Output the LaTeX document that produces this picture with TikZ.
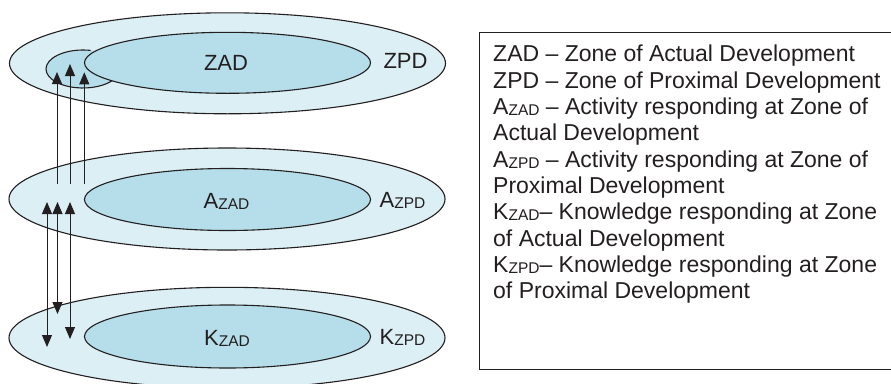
\documentclass[tikz,border=0pt]{standalone}
\usepackage{fontspec}
\setmainfont{Liberation Sans}
\usetikzlibrary{shapes.geometric,arrows.meta}
\definecolor{outerfill}{RGB}{219,239,245}
\definecolor{innerfill}{RGB}{181,222,234}
\definecolor{ink}{RGB}{35,31,32}
\newcommand\zsub[1]{\raisebox{-1pt}{\fontsize{15.5}{16}\selectfont #1}}
\begin{document}
\begin{tikzpicture}[x=1pt,y=-1pt,
  outerell/.style={ellipse, draw=ink, line width=1.1pt, fill=outerfill, minimum width=436pt, minimum height=101pt, inner sep=0pt},
  innerell/.style={ellipse, draw=ink, line width=1.1pt, fill=innerfill, minimum width=286pt, minimum height=62pt, inner sep=0pt},
  lbl/.style={font=\fontsize{22}{24}\selectfont, text=ink, inner sep=0pt, anchor=base},
  leg/.style={font=\fontsize{23}{26}\selectfont, text=ink, inner sep=0pt, anchor=base west},
  arr/.style={draw=ink, line width=1pt, -{Triangle[length=12pt,width=10pt]}},
  darr/.style={draw=ink, line width=1pt, {Triangle[length=12pt,width=10pt]}-{Triangle[length=12pt,width=10pt]}}
]
\useasboundingbox (0,0) rectangle (891,383);
\fill[white] (0,0) rectangle (891,383);
\clip (0,0) rectangle (891,383);

% top layer
\node[outerell] (zpd) at (227.5,63.3) {};
\fill[innerfill] (83,69) ellipse [x radius=37pt, y radius=19pt];
\draw[ink, line width=1.1pt] (83,69) ++(78:37pt and 19pt) arc[start angle=78, end angle=330, x radius=37pt, y radius=19pt];
\node[innerell, minimum height=61pt] (zad) at (227.5,62.8) {};
\node[lbl] (zadt) at (226,70) {ZAD};
\node[lbl] (zpdt) at (405.5,68) {ZPD};

% middle layer
\node[outerell, minimum height=102pt] (azpd) at (227,199) {};
\node[innerell] (azad) at (227.5,199.5) {};
\node[lbl] (azadt) at (226.5,208) {A\zsub{ZAD}};
\node[lbl] (azpdt) at (402.5,207) {A\zsub{ZPD}};

% bottom layer
\node[outerell] (kzpd) at (227,337.8) {};
\node[innerell, minimum height=63pt] (kzad) at (227.5,336.5) {};
\node[lbl] (kzadt) at (227,345) {K\zsub{ZAD}};
\node[lbl] (kzpdt) at (402.5,344) {K\zsub{ZPD}};

% arrows to top layer
\coordinate (t1s) at (57,184);   \coordinate (t1e) at (57,72);
\coordinate (t2s) at (70,184);   \coordinate (t2e) at (70,64);
\coordinate (t3s) at (84.3,184); \coordinate (t3e) at (84.3,72.3);
\draw[arr] (t1s) -- (t1e);
\draw[arr] (t2s) -- (t2e);
\draw[arr] (t3s) -- (t3e);

% arrows between middle and bottom layers
\coordinate (m1u) at (47,202);   \coordinate (m1d) at (47,347);
\coordinate (m2u) at (57.5,202); \coordinate (m2d) at (57.5,314);
\coordinate (m3u) at (70,202);   \coordinate (m3d) at (70,339);
\draw[darr] (m1d) -- (m1u);
\draw[darr] (m2d) -- (m2u);
\draw[darr] (m3d) -- (m3u);

% legend
\draw[ink, line width=1pt] (479,32.7) rectangle (920,369);
\node[leg] (l1) at (493,61.7) {ZAD – Zone of Actual Development};
\node[leg] (l2) at (493,88) {ZPD – Zone of Proximal Development};
\node[leg] (l3) at (493,114.3) {A\zsub{ZAD} – Activity responding at Zone of};
\node[leg] (l4) at (493,140.6) {Actual Development};
\node[leg] (l5) at (493,167) {A\zsub{ZPD} – Activity responding at Zone of};
\node[leg] (l6) at (493,193.3) {Proximal Development};
\node[leg] (l7) at (493,219.6) {K\zsub{ZAD}– Knowledge responding at Zone};
\node[leg] (l8) at (493,246) {of Actual Development};
\node[leg] (l9) at (493,272.3) {K\zsub{ZPD}– Knowledge responding at Zone};
\node[leg] (l10) at (493,298.6) {of Proximal Development};
\end{tikzpicture}
\end{document}
